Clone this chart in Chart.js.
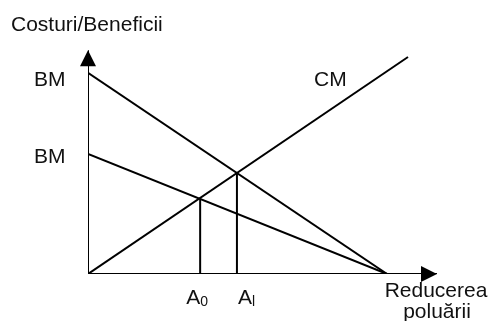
<!DOCTYPE html>
<html>
<head>
<meta charset="utf-8">
<script src="https://cdn.jsdelivr.net/npm/chart.js@4"></script>
<style>
  body { margin: 0; background: #fff; }
  #wrap { width: 491px; height: 321px; }
</style>
</head>
<body>
<div id="wrap"><canvas id="chart" width="491" height="321"></canvas></div>
<script>
// values (units: reduction on x, cost/benefit on y)
const bmHigh = [{x: 0, y: 6.73}, {x: 10, y: 0}];
const bmLow = [{x: 0, y: 4.02}, {x: 10, y: 0}];
const cm = [{x: 0, y: 0}, {x: 10.7, y: 7.26}];
const a0Drop = [{x: 3.75, y: 0}, {x: 3.75, y: 2.54}];
const a1Drop = [{x: 4.98, y: 0}, {x: 4.98, y: 3.38}];
const xAxisLine = [{x: 0, y: 0}, {x: 11.67, y: 0}];
const yAxisLine = [{x: 0, y: -0.1}, {x: 0, y: 7.49}];
const xMax = 11.77;
const yMax = 7.83;

const yTitle = 'Costuri/Beneficii';
const xTitle = ['Reducerea', 'poluării'];
const curveLabels = ['BM', 'BM', 'CM'];

const line = (data) => ({
  data: data,
  showLine: true,
  borderColor: '#000',
  borderWidth: 2,
  pointRadius: 0,
  fill: false
});

// arrows on the axes and the text labels
const decor = {
  id: 'decor',
  afterDatasetsDraw(chart) {
    const ctx = chart.ctx;
    const xs = chart.scales.x, ys = chart.scales.y;
    const ox = xs.getPixelForValue(0), oy = ys.getPixelForValue(0);
    const tx = xs.getPixelForValue(11.67), ty = ys.getPixelForValue(7.49);
    ctx.save();
    ctx.fillStyle = '#000';
    ctx.beginPath();
    ctx.moveTo(ox, ty);
    ctx.lineTo(ox - 8, ty + 16);
    ctx.lineTo(ox + 8, ty + 16);
    ctx.closePath();
    ctx.fill();
    ctx.beginPath();
    ctx.moveTo(tx, oy);
    ctx.lineTo(tx - 16, oy - 8);
    ctx.lineTo(tx - 16, oy + 8);
    ctx.closePath();
    ctx.fill();

    ctx.font = '21px "Liberation Sans", Arial, sans-serif';
    ctx.fillStyle = '#111';
    ctx.textBaseline = 'middle';
    ctx.textAlign = 'left';
    ctx.fillText(yTitle, 11, 25);
    ctx.fillText(curveLabels[0], 34, 80);
    ctx.fillText(curveLabels[1], 34, 157);
    ctx.fillText(curveLabels[2], 314, 80);
    ctx.textAlign = 'center';
    ctx.fillText(xTitle[0], 436, 291);
    ctx.fillText(xTitle[1], 437, 312);

    // A0 and Al labels under the drop lines
    ctx.textAlign = 'left';
    const a0x = xs.getPixelForValue(a0Drop[0].x);
    const a1x = xs.getPixelForValue(a1Drop[0].x);
    ctx.fillText('A', a0x - 14, 298);
    ctx.fillText('A', a1x + 1, 298);
    ctx.font = '14px "Liberation Sans", Arial, sans-serif';
    ctx.fillText('0', a0x, 302);
    ctx.fillText('l', a1x + 15, 302);
    ctx.restore();
  }
};

new Chart(document.getElementById('chart').getContext('2d'), {
  type: 'scatter',
  data: {
    datasets: [
      line(bmHigh),
      line(bmLow),
      line(cm),
      line(a0Drop),
      line(a1Drop),
      line(xAxisLine),
      line(yAxisLine)
    ]
  },
  options: {
    responsive: false,
    animation: false,
    layout: { padding: { left: 88, right: 51, top: 40, bottom: 47 } },
    scales: {
      x: { type: 'linear', min: 0, max: xMax, display: false },
      y: { type: 'linear', min: 0, max: yMax, display: false }
    },
    plugins: {
      legend: { display: false },
      tooltip: { enabled: false }
    },
    elements: { line: { borderCapStyle: 'butt' } }
  },
  plugins: [decor]
});
</script>
</body>
</html>
